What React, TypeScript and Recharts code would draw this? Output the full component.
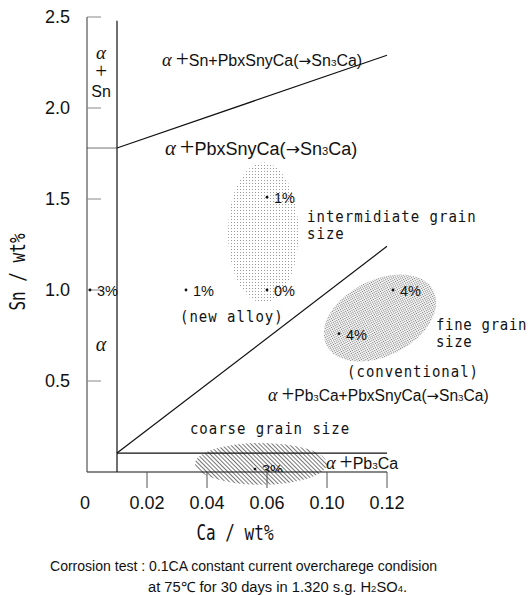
import { ComposedChart, XAxis, YAxis, Scatter, ReferenceLine, ReferenceArea, ReferenceDot } from "recharts"

const xTickCa = [0, 0.02, 0.04, 0.06, 0.1, 0.12]
const xTickText = ["0", "0.02", "0.04", "0.06", "0.10", "0.12"]
const yTicks = [0.5, 1.0, 1.5, 2.0, 2.5]

// phase boundaries, [Ca, Sn] end points
const boundaryStart = [[0, 1.78], [0.01, 0], [0.01, 1.78], [0.01, 0.104], [0.01, 0.104], [0, 0]]
const boundaryEnd = [[0.01, 1.78], [0.01, 2.48], [0.12, 2.29], [0.12, 1.24], [0.12, 0.104], [0.12, 0]]

// tested alloys and their corrosion weight loss
const sampleCa = [0.001, 0.033, 0.06, 0.06, 0.122, 0.104, 0.056]
const sampleSn = [1.0, 1.0, 1.0, 1.51, 1.0, 0.76, 0.016]
const sampleLoss = ["3%", "1%", "0%", "1%", "4%", "4%", "3%"]

// grain size regions: intermediate, fine, coarse
const grainCa = [[0.047, 0.081], [0.0953, 0.1377], [0.036, 0.1]]
const grainSn = [[0.93, 1.7], [0.637, 1.055], [-0.07, 0.16]]

const phaseText = ["Sn+PbxSnyCa(→Sn3Ca)", "PbxSnyCa(→Sn3Ca)", "Pb3Ca+PbxSnyCa(→Sn3Ca)", "Pb3Ca"]
const phaseCa = [0.025, 0.026, 0.0607, 0.0993]
const phaseSn = [2.264, 1.78, 0.423, 0.049]

const grainText = [["intermidiate grain", "size"], ["(new alloy)"], ["fine grain", "size"], ["(conventional)"], ["coarse grain size"]]
const grainTextCa = [0.0867, 0.031, 0.1363, 0.1067, 0.0343]
const grainTextSn = [1.401, 0.852, 0.808, 0.549, 0.236]

const phaseSize = [16, 18, 15.6, 16]
const grainFill = ["url(#dotsA)", "url(#dotsB)", "url(#hatch)"]
const grainTilt = [0, -27, 0]
const boundaryColor = ["#888", "#111", "#111", "#111", "#111", "#111"]

const sans = "Liberation Sans, Arial, sans-serif"
const serif = "Liberation Serif, Times New Roman, serif"
const mono = "DejaVu Sans Mono, monospace"

// x axis ticks are evenly spaced but labelled 0 .. 0.06, 0.10, 0.12
function caPos(ca: number) {
  for (let i = 1; i < xTickCa.length; i++) {
    if (ca <= xTickCa[i] || i === xTickCa.length - 1) {
      const a = xTickCa[i - 1]
      const b = xTickCa[i]
      return i - 1 + (ca - a) / (b - a)
    }
  }
  return 0
}

const samples = sampleCa.map((ca, i) => ({ x: caPos(ca), y: sampleSn[i], loss: sampleLoss[i] }))

function Formula({ x, y, text, size }: { x: number; y: number; text: string; size: number }) {
  const parts = text.split(/(\d|→)/).filter((s) => s !== "")
  return (
    <text x={x} y={y + size * 0.36} fill="#111" fontFamily={sans} fontSize={size}>
      <tspan fontFamily={serif} fontStyle="italic" fontSize={size * 1.15}>α</tspan>
      <tspan fontFamily={serif} fontSize={size * 1.45} dx={4}>+</tspan>
      {parts.map((p, i) => {
        if (/\d/.test(p)) return <tspan key={i} fontSize={size * 0.62}>{p}</tspan>
        if (p === "→") return <tspan key={i} fontFamily="DejaVu Sans" fontSize={size * 0.95}>{p}</tspan>
        return <tspan key={i}>{p}</tspan>
      })}
    </text>
  )
}

function MonoNote({ x, y, lines, spacing }: { x: number; y: number; lines: string[]; spacing: number }) {
  return (
    <g transform={`translate(${x},${y}) scale(1,1.15)`}>
      {lines.map((l, i) => (
        <text key={i} x={0} y={i * 14.8 + 4.5} fill="#111" fontFamily={mono} fontSize={14} letterSpacing={spacing}>{l}</text>
      ))}
    </g>
  )
}

function XTick(p: any) {
  const v = p.payload.value
  const label = xTickText[Math.round(v)]
  return (
    <g>
      {v > 0 && <line x1={p.x} x2={p.x} y1={p.y - 24} y2={p.y - 8} stroke="#555" />}
      <text x={p.x - (v === 0 ? 2 : 0)} y={p.y + 12.5} textAnchor="middle" fill="#111" fontFamily={sans} fontSize={18}>{label}</text>
    </g>
  )
}

export default function App() {
  return (
    <div style={{ position: "absolute", left: 0, top: 0, width: 528, height: 595, background: "#fff" }}>
      <ComposedChart width={528} height={595} margin={{ top: 17, right: 21, left: 17, bottom: 83 }}>
        <XAxis type="number" dataKey="x" domain={[0, 7]} ticks={[0, 1, 2, 3, 4, 5]} axisLine={false} tickLine={false}
          tickSize={16} tickMargin={8} height={40} tick={XTick} />
        <YAxis type="number" dataKey="y" domain={[0, 2.5]} ticks={yTicks} allowDataOverflow width={70}
          tickSize={-14} tickMargin={31} axisLine={{ stroke: "#333" }} tickLine={{ stroke: "#888" }}
          tick={{ fill: "#111", fontSize: 18, fontFamily: sans }} tickFormatter={(v: number) => v.toFixed(1)} />
        {grainCa.map((r, i) => (
          <ReferenceArea key={"g" + i} x1={caPos(r[0])} x2={caPos(r[1])} y1={grainSn[i][0]} y2={grainSn[i][1]} ifOverflow="visible"
            shape={(p: any) => {
              const cx = p.x + p.width / 2
              const cy = p.y + p.height / 2
              return <ellipse cx={cx} cy={cy} rx={Math.abs(p.width) / 2} ry={Math.abs(p.height) / 2} fill={grainFill[i]}
                transform={grainTilt[i] ? `rotate(${grainTilt[i]} ${cx} ${cy})` : undefined} />
            }} />
        ))}
        {boundaryStart.map((s, i) => (
          <ReferenceLine key={"b" + i} ifOverflow="visible" stroke={boundaryColor[i]} strokeWidth={1.2}
            segment={[{ x: caPos(s[0]), y: s[1] }, { x: caPos(boundaryEnd[i][0]), y: boundaryEnd[i][1] }]} />
        ))}
        {phaseText.map((t, i) => (
          <ReferenceDot key={"p" + i} x={caPos(phaseCa[i])} y={phaseSn[i]} r={0} ifOverflow="visible"
            shape={(p: any) => <Formula x={p.cx} y={p.cy} text={t} size={phaseSize[i]} />} />
        ))}
        {grainText.map((t, i) => (
          <ReferenceDot key={"t" + i} x={caPos(grainTextCa[i])} y={grainTextSn[i]} r={0} ifOverflow="visible"
            shape={(p: any) => <MonoNote x={p.cx} y={p.cy} lines={t} spacing={i === 2 ? 0.7 : 1} />} />
        ))}
        <ReferenceDot x={caPos(0.0047)} y={2.29} r={0} ifOverflow="visible"
          shape={(p: any) => (
            <g fill="#111" textAnchor="middle">
              <text x={p.cx} y={p.cy + 4} fontFamily={serif} fontStyle="italic" fontSize={19}>α</text>
              <text x={p.cx} y={p.cy + 23} fontFamily={serif} fontSize={21}>+</text>
              <text x={p.cx} y={p.cy + 42} fontFamily={sans} fontSize={16}>Sn</text>
            </g>
          )} />
        <ReferenceDot x={caPos(0.0047)} y={0.692} r={0} ifOverflow="visible"
          shape={(p: any) => <text x={p.cx} y={p.cy + 5} textAnchor="middle" fill="#111" fontFamily={serif} fontStyle="italic" fontSize={20}>α</text>} />
        <Scatter data={samples} isAnimationActive={false}
          shape={(p: any) => (
            <g>
              <circle cx={p.cx} cy={p.cy} r={1.4} fill="#111" />
              <text x={p.cx + 7} y={p.cy + 6} fill="#111" fontFamily={sans} fontSize={14.5}>{p.payload.loss}</text>
            </g>
          )} />
      </ComposedChart>
      <svg width={528} height={595} style={{ position: "absolute", left: 0, top: 0, pointerEvents: "none" }}>
        <defs>
          <pattern id="dotsA" width="3" height="3" patternUnits="userSpaceOnUse">
            <rect width="1" height="1" fill="#9a9a9a" />
          </pattern>
          <pattern id="dotsB" width="2" height="2" patternUnits="userSpaceOnUse">
            <rect width="1.1" height="1.1" fill="#777" />
          </pattern>
          <pattern id="hatch" width="3" height="3" patternUnits="userSpaceOnUse" patternTransform="rotate(-45)">
            <line x1="1.5" y1="0" x2="1.5" y2="3" stroke="#666" strokeWidth="0.9" />
          </pattern>
        </defs>
        <g transform="translate(25,272) rotate(-90) scale(1,1.3)">
          <text x={0} y={0} textAnchor="middle" fill="#111" fontFamily={mono} fontSize={16}>Sn / wt%</text>
        </g>
        <g transform="translate(235,540) scale(1,1.3)">
          <text x={0} y={0} textAnchor="middle" fill="#111" fontFamily={mono} fontSize={16}>Ca / wt%</text>
        </g>
        <text x={50} y={571} fill="#111" fontFamily={sans} fontSize={14} textLength={387} lengthAdjust="spacingAndGlyphs">
          Corrosion test : 0.1CA constant current overcharege condision
        </text>
        <text x={148} y={592} fill="#111" fontFamily={sans} fontSize={14} textLength={259} lengthAdjust="spacingAndGlyphs">
          at 75℃  for 30 days in 1.320 s.g. H<tspan fontSize={9}>2</tspan>SO<tspan fontSize={9}>4</tspan>.
        </text>
      </svg>
    </div>
  )
}
